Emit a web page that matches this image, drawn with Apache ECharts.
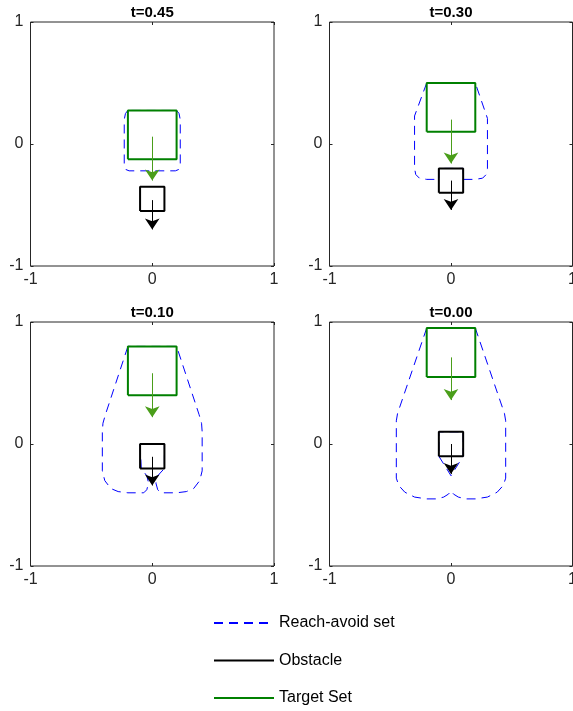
<!DOCTYPE html>
<html>
<head>
<meta charset="utf-8">
<script src="https://cdn.jsdelivr.net/npm/echarts@6/dist/echarts.min.js"></script>
<style>
  html, body { margin: 0; padding: 0; background: #fff; }
  #chart { width: 573px; height: 711px; }
</style>
</head>
<body>
<div id="chart"></div>
<script>
// panel titles (time stamps)
const panelTitles = ['t=0.45', 't=0.30', 't=0.10', 't=0.00']

// target set (green square) per panel
const targetX = [-0.2, 0.2]
const targetBottom = [-0.125, 0.1, 0.4, 0.55]
const targetTop = [0.275, 0.5, 0.8, 0.95]

// obstacle (black square) per panel
const obstacleX = [-0.1, 0.1]
const obstacleBottom = [-0.55, -0.4, -0.2, -0.1]
const obstacleTop = [-0.35, -0.2, 0, 0.1]

// velocity arrows (x = 0)
const targetArrowFrom = [0.06, 0.2, 0.58, 0.71]
const targetArrowTo = [-0.3, -0.16, 0.22, 0.36]
const obstacleArrowFrom = [-0.46, -0.3, -0.105, 0]
const obstacleArrowTo = [-0.7, -0.54, -0.34, -0.245]

// reach-avoid set boundaries
const reachAvoid45 = [
  [-0.2, 0.275], [-0.22, 0.25], [-0.23, 0.2], [-0.23, -0.18], [-0.215, -0.21], [-0.19, -0.22],
  [0.19, -0.22], [0.215, -0.21], [0.23, -0.18], [0.23, 0.2], [0.22, 0.25], [0.2, 0.275], [-0.2, 0.275]
]
const reachAvoid30 = [
  [-0.2, 0.5], [-0.3, 0.23], [-0.3, -0.2], [-0.29, -0.25], [-0.26, -0.28], [-0.2, -0.29],
  [-0.1, -0.29], [-0.1, -0.2], [0.1, -0.2], [0.1, -0.29], [0.2, -0.29], [0.26, -0.28],
  [0.29, -0.25], [0.3, -0.2], [0.3, 0.21], [0.2, 0.5], [-0.2, 0.5]
]
const reachAvoid10 = [
  [-0.2, 0.8], [-0.385, 0.24], [-0.405, 0.17], [-0.41, 0.1], [-0.41, -0.22], [-0.39, -0.3],
  [-0.34, -0.365], [-0.28, -0.39], [-0.2, -0.4], [-0.07, -0.4], [-0.045, -0.375], [-0.03, -0.32],
  [-0.045, -0.26], [-0.09, -0.2], [-0.1, -0.2], [-0.1, 0], [0.1, 0], [0.1, -0.2], [0.09, -0.2],
  [0.045, -0.26], [0.03, -0.32], [0.045, -0.375], [0.07, -0.4], [0.2, -0.4], [0.28, -0.39],
  [0.34, -0.365], [0.39, -0.3], [0.41, -0.22], [0.41, 0.1], [0.405, 0.17], [0.385, 0.24],
  [0.2, 0.8], [-0.2, 0.8]
]
const reachAvoid00 = [
  [-0.2, 0.95], [-0.44, 0.25], [-0.45, 0.19], [-0.45, -0.28], [-0.43, -0.34], [-0.38, -0.395],
  [-0.3, -0.435], [-0.2, -0.45], [-0.12, -0.45], [-0.06, -0.435], [-0.02, -0.41], [0, -0.385],
  [0.02, -0.41], [0.06, -0.435], [0.12, -0.45], [0.2, -0.45], [0.3, -0.435], [0.38, -0.395],
  [0.43, -0.34], [0.45, -0.28], [0.45, 0.19], [0.44, 0.25], [0.2, 0.95], [-0.2, 0.95]
]
const reachAvoid00Inner = [
  [-0.1, -0.1], [0, -0.26], [0.1, -0.1], [0.1, 0.1], [-0.1, 0.1], [-0.1, -0.1]
]
const reachAvoidSets = [[reachAvoid45], [reachAvoid30], [reachAvoid10], [reachAvoid00, reachAvoid00Inner]]

// axis ticks
const tickMin = -1
const tickMax = 1
const tickStep = 1

const legendNames = ['Reach-avoid set', 'Obstacle', 'Target Set']

const FONT = 'Liberation Sans, Arial, Helvetica, sans-serif'
const AXIS_COLOR = '#262626'
const BLUE = '#0000ff'
const GREEN = '#008000'
const ARROW_GREEN = '#4a9e1a'

// subplot boxes [left, top, width, height]
const boxes = [
  [30.5, 22, 243.5, 244],
  [329.5, 22, 243, 244],
  [30.5, 322, 243.5, 244],
  [329.5, 322, 243, 244]
]

function square (xs, y0, y1) {
  return [[xs[0], y0], [xs[1], y0], [xs[1], y1], [xs[0], y1], [xs[0], y0]]
}

const chart = echarts.init(document.getElementById('chart'), null, { renderer: 'canvas' })

const grids = []
const xAxes = []
const yAxes = []
const titles = []
const series = []

boxes.forEach(function (b, i) {
  grids.push({
    left: b[0], top: b[1], width: b[2], height: b[3],
    containLabel: false, outerBoundsMode: 'none',
    show: true, borderColor: AXIS_COLOR, borderWidth: 1, backgroundColor: '#fff'
  })
  titles.push({
    text: panelTitles[i],
    left: b[0] + b[2] / 2,
    top: b[1] - 17,
    padding: 0,
    textAlign: 'center',
    textStyle: { fontFamily: FONT, fontSize: 15, fontWeight: 'bold', color: '#000' }
  })
})

const tickStyle = { show: true, inside: true, length: 3, lineStyle: { color: AXIS_COLOR, width: 1 } }
const noLine = { show: false, onZero: false }

// bottom / left axes with labels
boxes.forEach(function (b, i) {
  xAxes.push({
    type: 'value', gridIndex: i, position: 'bottom', min: tickMin, max: tickMax, interval: tickStep,
    axisLine: noLine, axisTick: tickStyle, splitLine: { show: false },
    axisLabel: { fontFamily: FONT, fontSize: 16, color: AXIS_COLOR, margin: 6 }
  })
  yAxes.push({
    type: 'value', gridIndex: i, position: 'left', min: tickMin, max: tickMax, interval: tickStep,
    axisLine: noLine, axisTick: tickStyle, splitLine: { show: false },
    axisLabel: { fontFamily: FONT, fontSize: 16, color: AXIS_COLOR, margin: 7 }
  })
})
// top / right axes: ticks only
boxes.forEach(function (b, i) {
  xAxes.push({
    type: 'value', gridIndex: i, position: 'top', min: tickMin, max: tickMax, interval: tickStep,
    axisLine: noLine, axisTick: tickStyle, splitLine: { show: false }, axisLabel: { show: false }
  })
  yAxes.push({
    type: 'value', gridIndex: i, position: 'right', min: tickMin, max: tickMax, interval: tickStep,
    axisLine: noLine, axisTick: tickStyle, splitLine: { show: false }, axisLabel: { show: false }
  })
})

boxes.forEach(function (b, i) {
  reachAvoidSets[i].forEach(function (curve) {
    series.push({
      name: legendNames[0], type: 'line', xAxisIndex: i, yAxisIndex: i,
      data: curve, symbol: 'none', smooth: false, silent: true, z: 2,
      lineStyle: { color: BLUE, width: 1, type: [9, 6] }, itemStyle: { color: BLUE }
    })
  })
  series.push({
    name: legendNames[1], type: 'line', xAxisIndex: i, yAxisIndex: i,
    data: square(obstacleX, obstacleBottom[i], obstacleTop[i]), symbol: 'none', silent: true, z: 3,
    lineStyle: { color: '#000', width: 2 }, itemStyle: { color: '#000' }
  })
  series.push({
    name: legendNames[2], type: 'line', xAxisIndex: i, yAxisIndex: i,
    data: square(targetX, targetBottom[i], targetTop[i]), symbol: 'none', silent: true, z: 3,
    lineStyle: { color: GREEN, width: 2 }, itemStyle: { color: GREEN }
  })
  series.push({
    name: 'targetArrow' + i, type: 'lines', coordinateSystem: 'cartesian2d', xAxisIndex: i, yAxisIndex: i,
    symbol: ['none', 'arrow'], symbolSize: 11, silent: true, z: 4,
    lineStyle: { color: ARROW_GREEN, width: 1, opacity: 1 },
    data: [{ coords: [[0, targetArrowFrom[i]], [0, targetArrowTo[i]]] }]
  })
  series.push({
    name: 'obstacleArrow' + i, type: 'lines', coordinateSystem: 'cartesian2d', xAxisIndex: i, yAxisIndex: i,
    symbol: ['none', 'arrow'], symbolSize: 11, silent: true, z: 4,
    lineStyle: { color: '#000', width: 1, opacity: 1 },
    data: [{ coords: [[0, obstacleArrowFrom[i]], [0, obstacleArrowTo[i]]] }]
  })
})

chart.setOption({
  backgroundColor: '#fff',
  animation: false,
  title: titles,
  legend: {
    data: legendNames,
    orient: 'vertical',
    left: 213,
    top: 615,
    padding: 0,
    itemWidth: 60,
    itemHeight: 16,
    itemGap: 21.5,
    selectedMode: false,
    itemStyle: { opacity: 0 },
    textStyle: { fontFamily: FONT, fontSize: 16, color: '#000' }
  },
  grid: grids,
  xAxis: xAxes,
  yAxis: yAxes,
  series: series
})
</script>
</body>
</html>
